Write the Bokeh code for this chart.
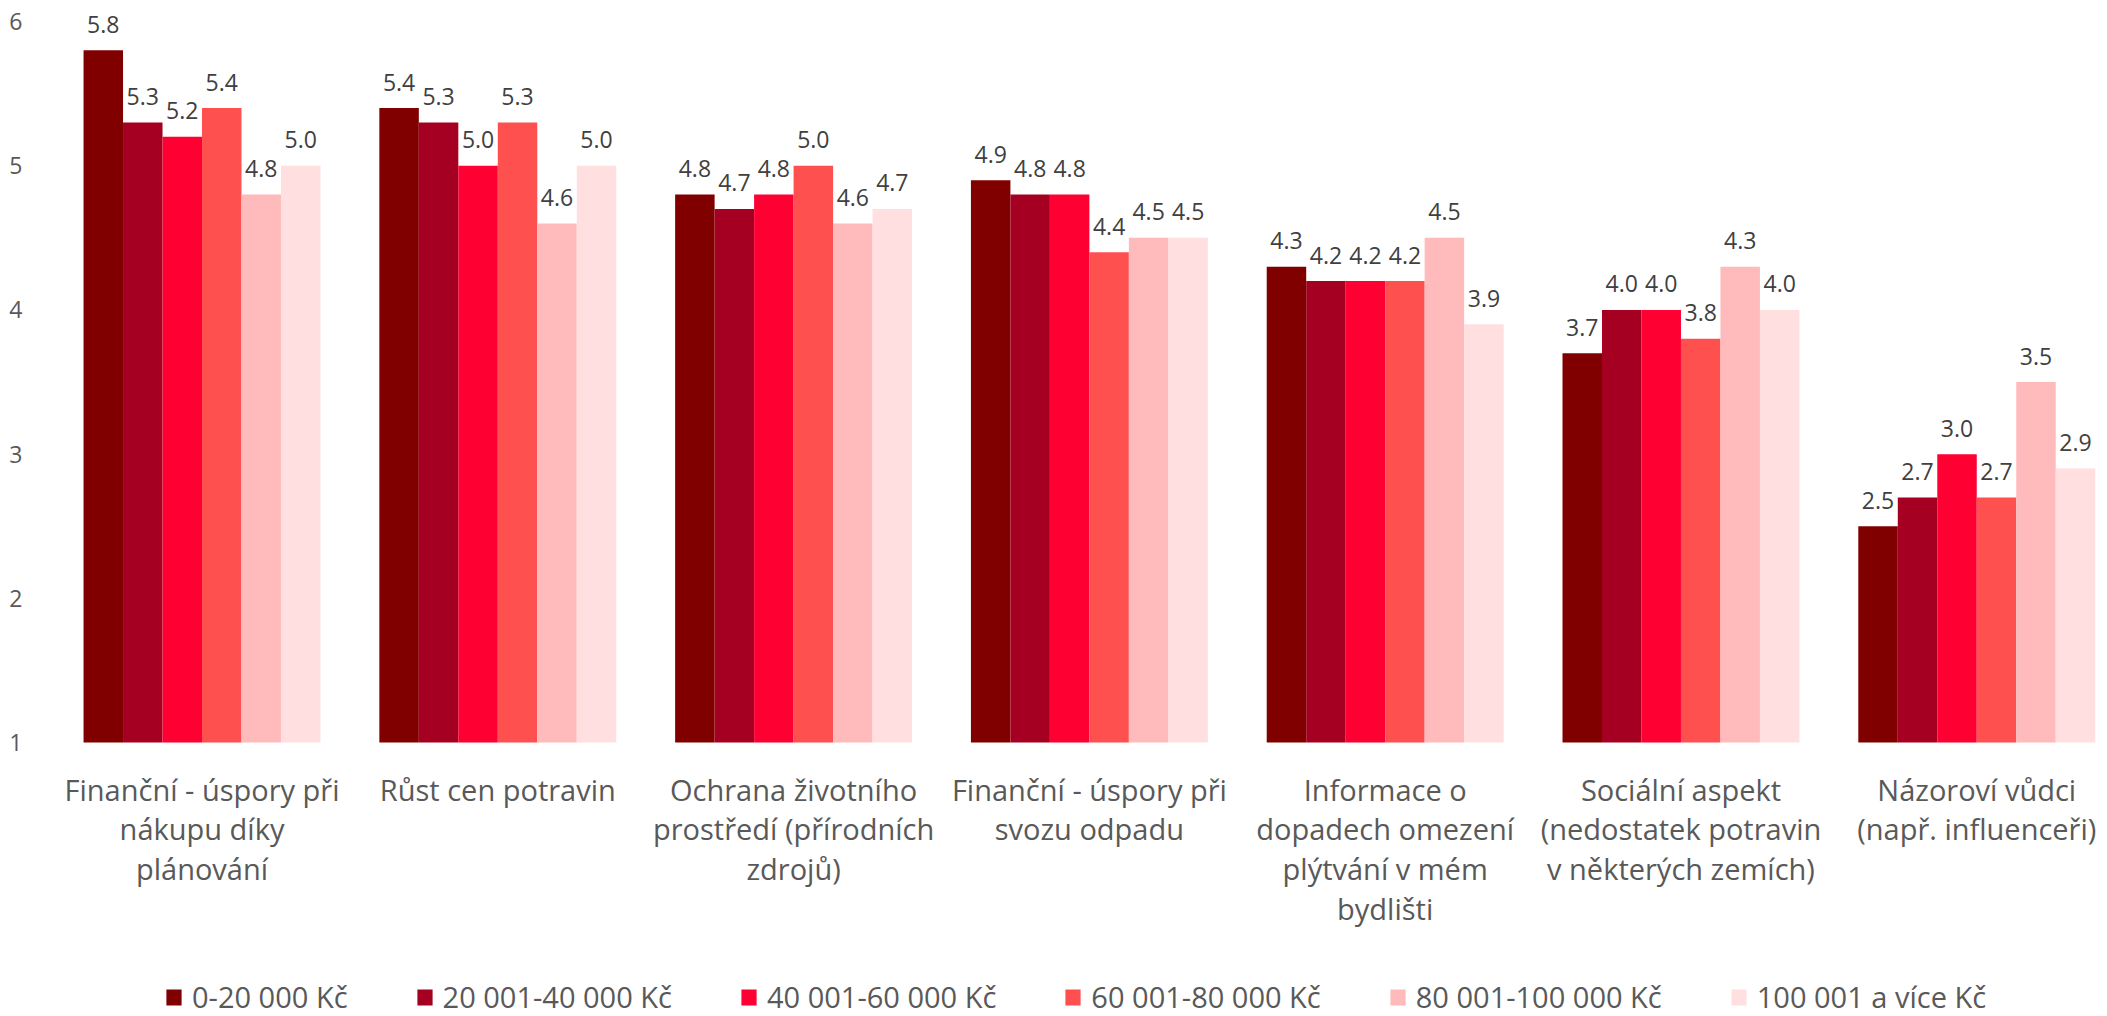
from bokeh.plotting import figure
from bokeh.models import ColumnDataSource, Range1d, FixedTicker, Legend, LegendItem
from bokeh.core.properties import value
from bokeh.embed import file_html
from bokeh.resources import INLINE

categories = [
    "Finanční - úspory při\nnákupu díky\nplánování",
    "Růst cen potravin",
    "Ochrana životního\nprostředí (přírodních\nzdrojů)",
    "Finanční - úspory při\nsvozu odpadu",
    "Informace o\ndopadech omezení\nplýtvání v mém\nbydlišti",
    "Sociální aspekt\n(nedostatek potravin\nv některých zemích)",
    "Názoroví vůdci\n(např. influenceři)",
]
series_names = ["0-20 000 Kč", "20 001-40 000 Kč", "40 001-60 000 Kč",
                "60 001-80 000 Kč", "80 001-100 000 Kč", "100 001 a více Kč"]
s1 = [5.8, 5.4, 4.8, 4.9, 4.3, 3.7, 2.5]
s2 = [5.3, 5.3, 4.7, 4.8, 4.2, 4.0, 2.7]
s3 = [5.2, 5.0, 4.8, 4.8, 4.2, 4.0, 3.0]
s4 = [5.4, 5.3, 5.0, 4.4, 4.2, 3.8, 2.7]
s5 = [4.8, 4.6, 4.6, 4.5, 4.5, 4.3, 3.5]
s6 = [5.0, 5.0, 4.7, 4.5, 3.9, 4.0, 2.9]
series = [s1, s2, s3, s4, s5, s6]
colors = ["#800000", "#A50021", "#FF0033", "#FF5050", "#FFBBBC", "#FFDFE0"]
y_ticks = [1, 2, 3, 4, 5, 6]
baseline = 1

FONT = "Open Sans"
GREY = "#595959"

p = figure(width=2107, height=1016, output_backend="svg", toolbar_location=None,
           x_range=Range1d(-0.4987, 6.442), y_range=Range1d(-0.8995, 6.1456),
           min_border_left=54, min_border_right=0, min_border_top=0,
           min_border_bottom=0)
p.outline_line_color = None
p.xgrid.visible = False
p.ygrid.visible = False
p.xaxis.visible = False

bw = 0.1335
items = []
for j, (vals, c, name) in enumerate(zip(series, colors, series_names)):
    xs = [i + (j - 2.5) * bw for i in range(len(categories))]
    src = ColumnDataSource(dict(x=xs, top=vals, lab=["%.1f" % v for v in vals]))
    r = p.vbar(x="x", top="top", bottom=baseline, width=bw, source=src,
               fill_color=c, line_color=None)
    p.text(x="x", y="top", text="lab", source=src, text_align="center",
           text_baseline="alphabetic", y_offset=-26, text_font=value(FONT),
           text_font_size="23px", text_color="#404040")
    items.append(LegendItem(label=name, renderers=[r]))

# category labels under the groups
cat_src = ColumnDataSource(dict(x=list(range(len(categories))),
                                y=[baseline] * len(categories), text=categories))
p.text(x="x", y="y", text="text", source=cat_src, text_align="center",
       text_baseline="top", y_offset=27, text_font=value(FONT),
       text_font_size="29px", text_color=GREY, text_line_height=1.02)

p.yaxis.ticker = FixedTicker(ticks=y_ticks)
p.yaxis.axis_line_color = None
p.yaxis.major_tick_line_color = None
p.yaxis.minor_tick_line_color = None
p.yaxis.major_label_text_font = FONT
p.yaxis.major_label_text_font_size = "23px"
p.yaxis.major_label_text_color = GREY
p.yaxis.major_label_standoff = 26

legend = Legend(items=items, orientation="horizontal", location=(110, 0),
                glyph_width=19, glyph_height=20, label_standoff=9, spacing=67,
                label_text_font=FONT, label_text_font_size="29px",
                label_text_color=GREY, border_line_color=None,
                background_fill_alpha=0, margin=0, padding=0)
p.add_layout(legend, "center")

open("out.html", "w").write(file_html(p, INLINE))
